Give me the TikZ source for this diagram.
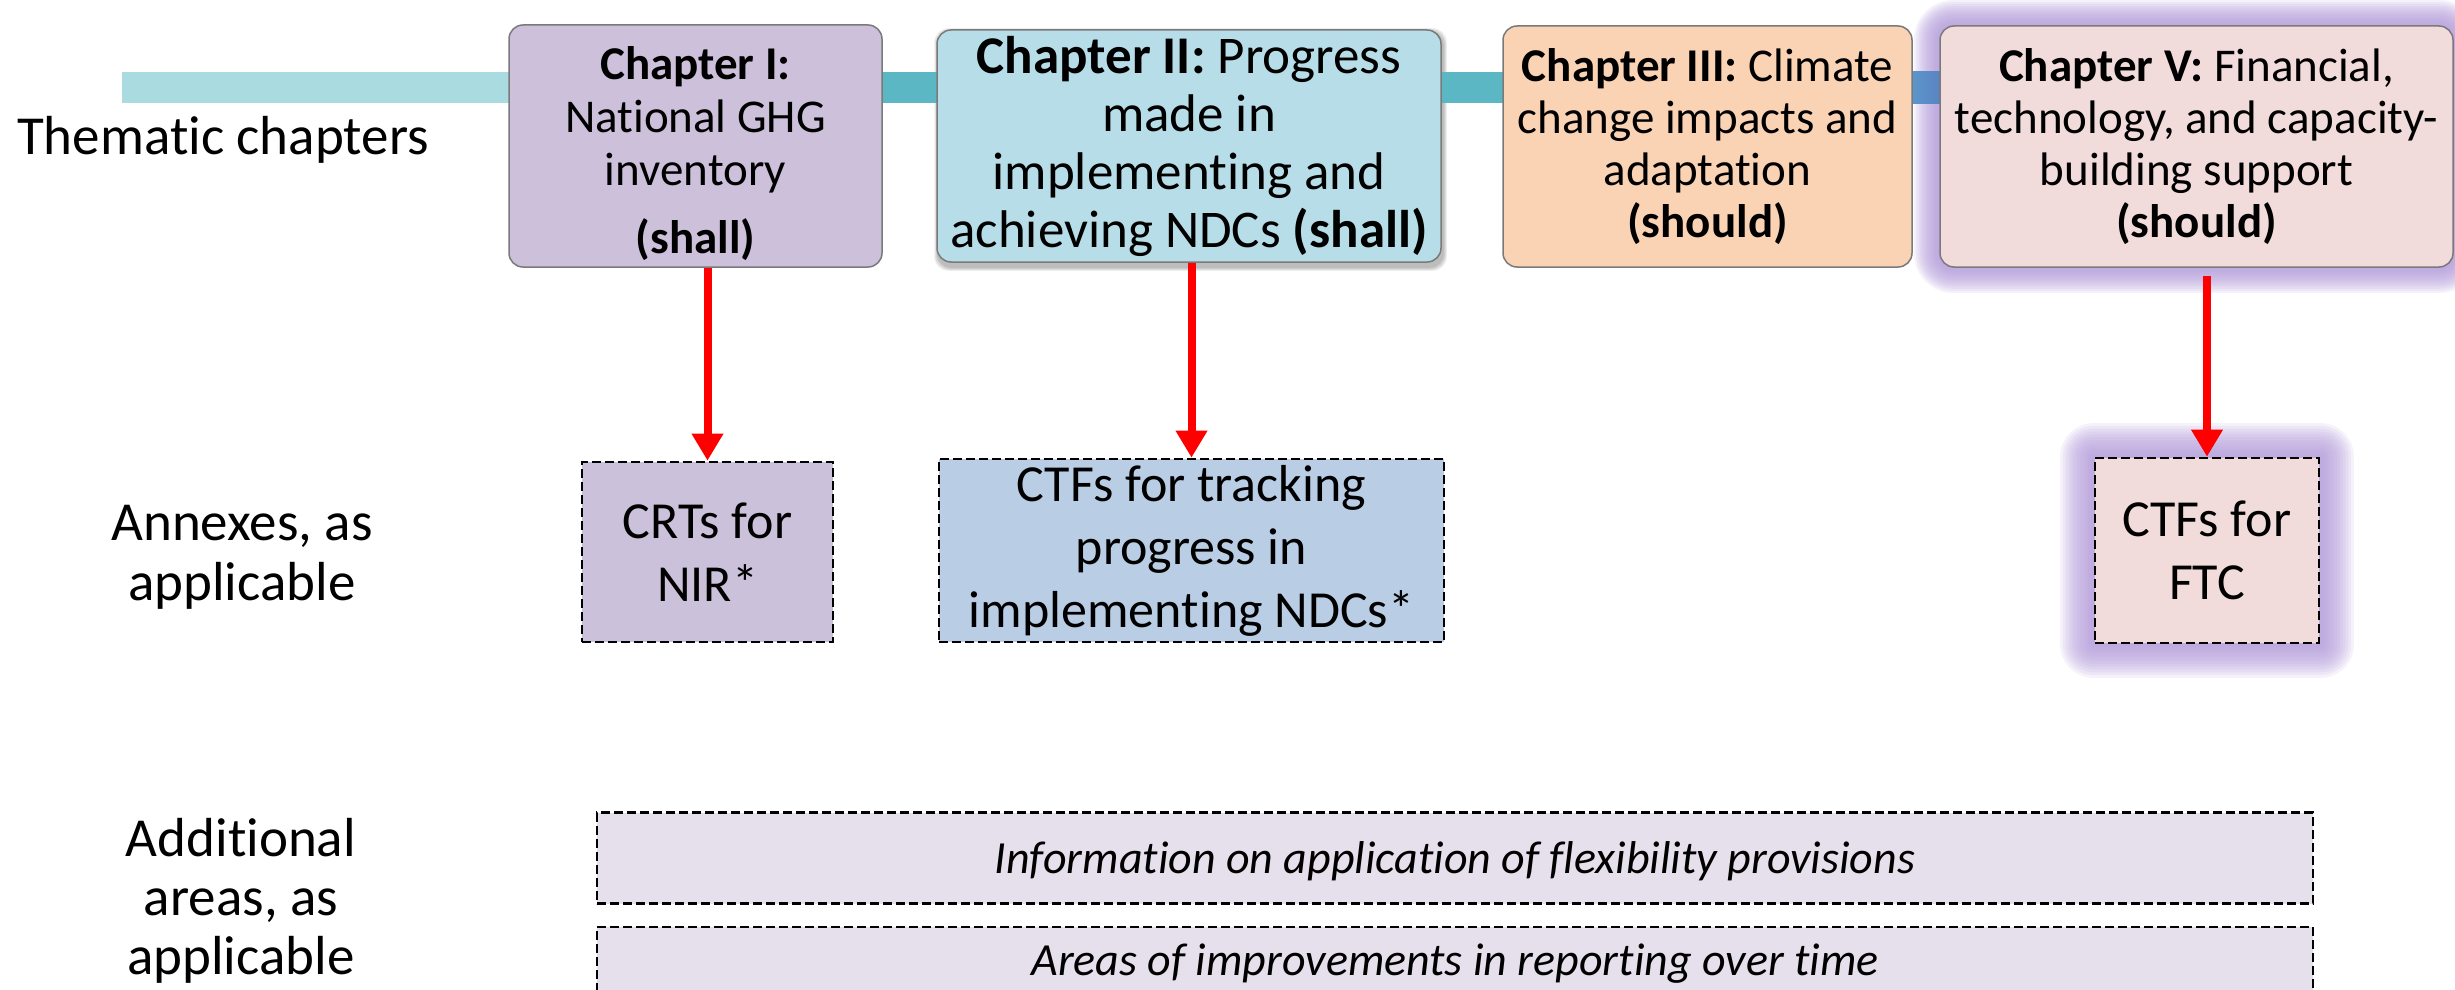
\documentclass[tikz,border=0pt]{standalone}
\usepackage{fontspec}
\setmainfont{Carlito}[Ligatures={NoCommon,NoContextual}]
\usetikzlibrary{arrows.meta,calc}
\pgfdeclarelayer{bg}
\pgfsetlayers{bg,main}
\definecolor{chIcol}{HTML}{CCC0DA}
\definecolor{chIIcol}{HTML}{B7DEE8}
\definecolor{chIIIcol}{HTML}{FAD2B4}
\definecolor{chVcol}{HTML}{F2DCDB}
\definecolor{crtcol}{HTML}{CCC1DA}
\definecolor{ndccol}{HTML}{B9CDE5}
\definecolor{ftccol}{HTML}{F2DCDB}
\definecolor{areacol}{HTML}{E5E0EC}
\definecolor{bandlight}{HTML}{AADBE0}
\definecolor{bandteal}{HTML}{5BB7C3}
\definecolor{bandblueA}{HTML}{5C9BCC}
\definecolor{bandblueB}{HTML}{5A80C2}
\definecolor{glowcol}{HTML}{B49CDC}
\definecolor{chborder}{HTML}{7A7A7A}
\newcommand\glowaround[4]{%
  \foreach \k in {1,...,12}{%
    \pgfmathsetmacro\e{\k*#2}%
    \pgfmathsetmacro\r{#3+\k*#2}%
    \fill[glowcol, fill opacity=#4, rounded corners=\r pt]
      ([xshift=-\e pt,yshift=\e pt]#1.north west) rectangle ([xshift=\e pt,yshift=-\e pt]#1.south east);
  }}
\begin{document}
\begin{tikzpicture}[x=1pt,y=-1pt,
  chap/.style={draw=chborder, line width=1.5pt, rounded corners=14pt, inner sep=0pt, align=center, font=\fontsize{47}{52}\selectfont},
  annex/.style={draw=black, line width=2.6pt, dash pattern=on 9pt off 4pt, inner sep=0pt, align=center, font=\fontsize{52}{63}\selectfont},
  area/.style={draw=black, line width=2.6pt, dash pattern=on 9pt off 4pt, inner sep=0pt, fill=areacol, minimum width=1716pt, font=\fontsize{46}{55}\selectfont\itshape},
  rowlabel/.style={align=center, inner sep=0pt, font=\fontsize{55}{60}\selectfont},
  redarrow/.style={draw=red, line width=8pt, -{Triangle[length=27pt,width=30pt]}}
]
\useasboundingbox (0,0) rectangle (2455,990);
\clip (0,0) rectangle (2455,990);

% chapter boxes
\node[chap, fill=chIcol, minimum width=373pt, minimum height=242pt, font=\fontsize{47}{53}\selectfont] (ch1) at (695.5,146)
  {\rule{0pt}{48pt}\textbf{Chapter I:}\\ National GHG\\ inventory\\[15pt] \textbf{(shall)}};
\node[chap, fill=chIIcol, minimum width=504pt, minimum height=232pt, font=\fontsize{53}{58}\selectfont] (ch2) at (1189,146)
  {\textbf{Chapter II:} Progress\\ made in\\ implementing and\\ achieving NDCs \textbf{(shall)}};
\node[chap, fill=chIIIcol, minimum width=409pt, minimum height=241pt] (ch3) at (1707.5,146.5)
  {\textbf{Chapter III:} Climate\\ change impacts and\\ adaptation\\ \textbf{(should)}};
\node[chap, fill=chVcol, minimum width=513pt, minimum height=241pt] (ch5) at (2196.5,146.5)
  {\textbf{Chapter V:} Financial,\\ technology, and capacity-\\ building support\\ \textbf{(should)}};

% annexes
\node[annex, fill=crtcol, minimum width=251pt, minimum height=180pt] (crt) at (707.5,552) {CRTs for\\ NIR*};
\node[annex, fill=ndccol, minimum width=505pt, minimum height=183pt] (ndc) at (1191.5,550.5) {CTFs for tracking\\ progress in\\ implementing NDCs*};
\node[annex, fill=ftccol, minimum width=224pt, minimum height=185pt] (ftc) at (2207,550.5) {CTFs for\\ FTC};

% additional areas
\node[area, minimum height=91pt, text depth=0pt] (area1) at (1455,858) {Information on application of flexibility provisions};
\node[area, minimum height=100pt, text height=33pt, text depth=37pt] (area2) at (1455,977) {Areas of improvements in reporting over time};

% row labels (base anchor = last line)
\node[rowlabel, anchor=base] (lannex) at (242,600) {Annexes, as\\ applicable};
\node[rowlabel, anchor=base west] (lthem) at (17,154) {Thematic chapters};
\node[rowlabel, anchor=base, font=\fontsize{55}{59}\selectfont] (ladd) at (241,974) {Additional\\ areas, as\\ applicable};

% arrows
\draw[redarrow] (crt.north |- ch1.south) -- (crt.north);
\draw[redarrow] (ndc.north |- ch2.south) -- (ndc.north);
\coordinate (ch5out) at ([yshift=-8pt]ch5.south);
\draw[redarrow] (ftc.north |- ch5out) -- (ftc.north);

\begin{pgfonlayer}{bg}
  \fill[white] (0,0) rectangle (2455,990);
  \glowaround{ch5}{2.1}{14}{0.13}
  \glowaround{ftc}{2.8}{0}{0.13}
  \foreach \k in {0,...,3}{
    \fill[black, fill opacity=0.07, rounded corners=14pt]
      ([xshift=-\k pt+1pt, yshift=-2pt+\k pt]ch2.north west) rectangle ([xshift=\k pt+2pt, yshift=-5pt-\k pt]ch2.south east);
  }
  \fill[bandlight] (122,72) rectangle (515,103);
  \fill[bandteal] (875,72) rectangle (1510,103);
  \shade[left color=bandblueA, right color=bandblueB] (1905,72) rectangle (1945,103);
\end{pgfonlayer}
\end{tikzpicture}
\end{document}
